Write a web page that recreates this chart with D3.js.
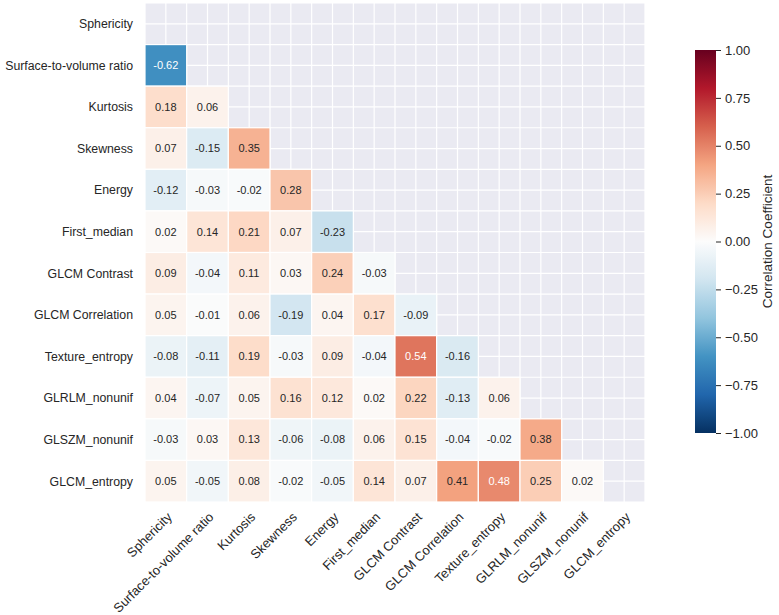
<!DOCTYPE html>
<html>
<head>
<meta charset="utf-8">
<script src="https://cdn.jsdelivr.net/npm/d3@7"></script>
<style>
  body { margin: 0; background: #fff; }
  text { font-family: "Liberation Sans", Arial, sans-serif; fill: #262626; }
</style>
</head>
<body>
<svg id="chart"></svg>
<script>
// feature names (rows top->bottom, columns left->right)
const features = ['Sphericity', 'Surface-to-volume ratio', 'Kurtosis', 'Skewness', 'Energy',
  'First_median', 'GLCM Contrast', 'GLCM Correlation', 'Texture_entropy', 'GLRLM_nonunif',
  'GLSZM_nonunif', 'GLCM_entropy'];

// lower triangle of the correlation matrix, one array per row (row i has i values)
const rowSurface = [-0.62];
const rowKurtosis = [0.18, 0.06];
const rowSkewness = [0.07, -0.15, 0.35];
const rowEnergy = [-0.12, -0.03, -0.02, 0.28];
const rowFirstMedian = [0.02, 0.14, 0.21, 0.07, -0.23];
const rowContrast = [0.09, -0.04, 0.11, 0.03, 0.24, -0.03];
const rowCorrelation = [0.05, -0.01, 0.06, -0.19, 0.04, 0.17, -0.09];
const rowTexture = [-0.08, -0.11, 0.19, -0.03, 0.09, -0.04, 0.54, -0.16];
const rowGlrlm = [0.04, -0.07, 0.05, 0.16, 0.12, 0.02, 0.22, -0.13, 0.06];
const rowGlszm = [-0.03, 0.03, 0.13, -0.06, -0.08, 0.06, 0.15, -0.04, -0.02, 0.38];
const rowGlcmEntropy = [0.05, -0.05, 0.08, -0.02, -0.05, 0.14, 0.07, 0.41, 0.48, 0.25, 0.02];

const lowerRows = [[], rowSurface, rowKurtosis, rowSkewness, rowEnergy, rowFirstMedian,
  rowContrast, rowCorrelation, rowTexture, rowGlrlm, rowGlszm, rowGlcmEntropy];

const colorbarTicks = [-1, -0.75, -0.5, -0.25, 0, 0.25, 0.5, 0.75, 1];
const colorbarTitle = 'Correlation Coefficient';

// RdBu_r anchor colours (low -> high), centre lifted a little toward white
const rdbuR = ['#053061', '#2166ac', '#4393c3', '#92c5de', '#d1e5f0', '#fcfcfc',
  '#fddbc7', '#f4a582', '#d6604d', '#b2182b', '#67001f'];

const W = 779, H = 615;
const plot = {left: 145, top: 3, right: 645, bottom: 502};
const cbar = {x: 695, width: 21, top: 50, bottom: 433};

const svg = d3.select('#chart').attr('width', W).attr('height', H);

// cells: flatten lower triangle
const cells = [];
lowerRows.forEach((vals, i) => vals.forEach((v, j) => cells.push({row: features[i], col: features[j], v})));

const xScale = d3.scaleBand().domain(features).range([plot.left, plot.right]);
const yScale = d3.scaleBand().domain(features).range([plot.top, plot.bottom]);
const color = d3.scaleLinear()
  .domain(d3.range(rdbuR.length).map(i => -1 + 2 * i / (rdbuR.length - 1)))
  .range(rdbuR)
  .clamp(true);

// background with grid (masked area)
svg.append('rect')
  .attr('x', plot.left).attr('y', plot.top)
  .attr('width', plot.right - plot.left).attr('height', plot.bottom - plot.top)
  .attr('fill', '#eaeaf2');

const halfX = d3.range(0, features.length * 2 + 1).map(k => plot.left + k * xScale.bandwidth() / 2);
const halfY = d3.range(0, features.length * 2 + 1).map(k => plot.top + k * yScale.bandwidth() / 2);
const grid = svg.append('g').attr('stroke', '#fff').attr('stroke-width', 1.2);
grid.selectAll('.gx').data(halfX).join('line')
  .attr('x1', d => d).attr('x2', d => d).attr('y1', plot.top).attr('y2', plot.bottom);
grid.selectAll('.gy').data(halfY).join('line')
  .attr('y1', d => d).attr('y2', d => d).attr('x1', plot.left).attr('x2', plot.right);

// heatmap cells
svg.append('g').selectAll('rect')
  .data(cells)
  .join('rect')
  .attr('x', d => xScale(d.col))
  .attr('y', d => yScale(d.row))
  .attr('width', xScale.bandwidth())
  .attr('height', yScale.bandwidth())
  .attr('fill', d => color(d.v))
  .attr('stroke', '#fff')
  .attr('stroke-width', 1.2);

// annotation text colour, same rule as seaborn (relative luminance)
function lum(c) {
  const rgb = d3.rgb(c);
  const f = x => { x /= 255; return x <= 0.03928 ? x / 12.92 : Math.pow((x + 0.055) / 1.055, 2.4); };
  return 0.2126 * f(rgb.r) + 0.7152 * f(rgb.g) + 0.0722 * f(rgb.b);
}

svg.append('g').selectAll('text')
  .data(cells)
  .join('text')
  .attr('x', d => xScale(d.col) + xScale.bandwidth() / 2)
  .attr('y', d => yScale(d.row) + yScale.bandwidth() / 2)
  .attr('dy', '0.35em')
  .attr('text-anchor', 'middle')
  .style('font-size', '11px')
  .style('fill', d => lum(color(d.v)) > 0.408 ? '#262626' : '#ffffff')
  .text(d => d3.format('.2f')(d.v).replace('\u2212', '-'));

// y labels
svg.append('g').selectAll('text')
  .data(features)
  .join('text')
  .attr('x', plot.left - 12)
  .attr('y', d => yScale(d) + yScale.bandwidth() / 2)
  .attr('dy', '0.35em')
  .attr('text-anchor', 'end')
  .style('font-size', '12.3px')
  .text(d => d);

// x labels, rotated
svg.append('g').selectAll('text')
  .data(features)
  .join('text')
  .attr('transform', d => `translate(${xScale(d) + xScale.bandwidth() / 2},${plot.bottom + 9}) rotate(-45)`)
  .attr('dy', '0.75em')
  .attr('text-anchor', 'end')
  .style('font-size', '13px')
  .text(d => d);

// colorbar
const defs = svg.append('defs');
const grad = defs.append('linearGradient')
  .attr('id', 'cbgrad').attr('x1', 0).attr('x2', 0).attr('y1', 1).attr('y2', 0);
grad.selectAll('stop')
  .data(d3.range(0, 1.0001, 0.02))
  .join('stop')
  .attr('offset', d => d)
  .attr('stop-color', d => color(-1 + 2 * d));

svg.append('rect')
  .attr('x', cbar.x).attr('y', cbar.top)
  .attr('width', cbar.width).attr('height', cbar.bottom - cbar.top)
  .attr('fill', 'url(#cbgrad)');

const cbScale = d3.scaleLinear().domain([-1, 1]).range([cbar.bottom, cbar.top]);
const cbAxis = d3.axisRight(cbScale)
  .tickValues(colorbarTicks)
  .tickSize(5)
  .tickPadding(4)
  .tickFormat(d => d3.format('.2f')(d).replace('-', '\u2212'));

svg.append('g')
  .attr('transform', `translate(${cbar.x + cbar.width},0)`)
  .call(cbAxis)
  .call(g => g.select('.domain').remove())
  .call(g => g.selectAll('line').attr('stroke', '#262626'))
  .call(g => g.selectAll('text').style('font-size', '13px').style('font-family', '"Liberation Sans", Arial, sans-serif').attr('fill', '#262626'));

svg.append('text')
  .attr('transform', `translate(${772},${(cbar.top + cbar.bottom) / 2}) rotate(-90)`)
  .attr('text-anchor', 'middle')
  .style('font-size', '13.5px')
  .text(colorbarTitle);
</script>
</body>
</html>
